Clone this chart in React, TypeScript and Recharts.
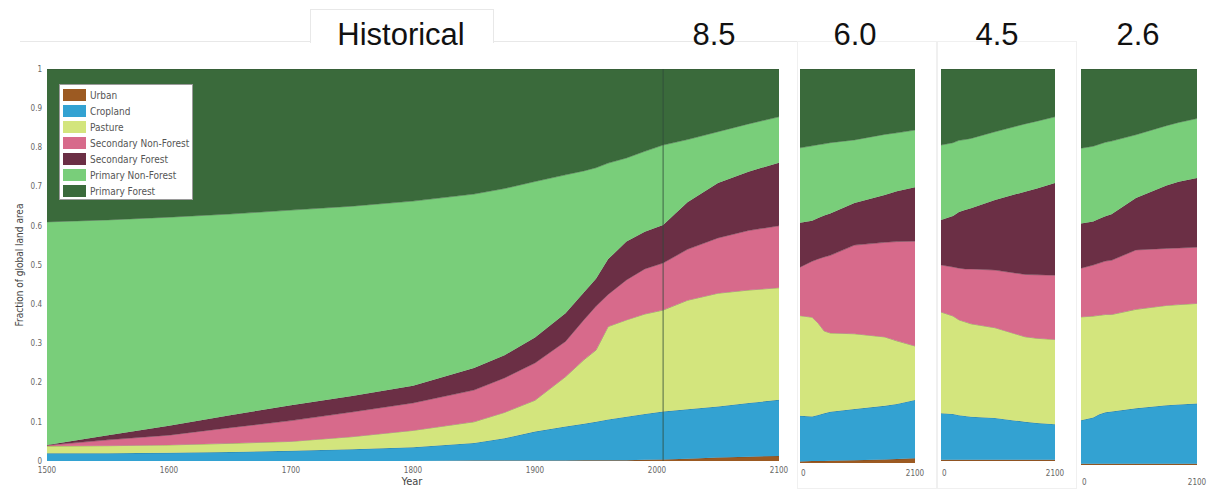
import React from 'react';
import { AreaChart, Area, XAxis, YAxis, ReferenceLine, Label } from 'recharts';

// land-use classes, bottom of the stack first
const CLASS_NAMES = ['Urban', 'Cropland', 'Pasture', 'Secondary Non-Forest', 'Secondary Forest', 'Primary Non-Forest', 'Primary Forest'];
const CLASS_KEYS = ['urban', 'cropland', 'pasture', 'secNonForest', 'secForest', 'priNonForest', 'priForest'];
const CLASS_COLORS = ['#9c5a22', '#33a2d2', '#d3e57d', '#d76a8b', '#6b2f45', '#79ce7a', '#3a6a3b'];

const Y_TICKS = [0, 0.1, 0.2, 0.3, 0.4, 0.5, 0.6, 0.7, 0.8, 0.9, 1];
const Y_TICK_LABELS = ['0', '0.1', '0.2', '0.3', '0.4', '0.5', '0.6', '0.7', '0.8', '0.9', '1'];
const MAIN_X_TICKS = [1500, 1600, 1700, 1800, 1900, 2000, 2100];

// historical reconstruction continued with RCP 8.5
const mainYears = [1500, 1550, 1600, 1650, 1700, 1750, 1800, 1850, 1875, 1900, 1925, 1940, 1950, 1960, 1975, 1990, 2005, 2025, 2050, 2075, 2100];
const mainUrban = [0, 0, 0, 0, 0, 0, 0, 0.001, 0.001, 0.001, 0.001, 0.002, 0.002, 0.002, 0.002, 0.003, 0.004, 0.006, 0.009, 0.011, 0.013];
const mainCropland = [0.02, 0.02, 0.021, 0.023, 0.026, 0.03, 0.035, 0.045, 0.057, 0.074, 0.087, 0.093, 0.098, 0.104, 0.111, 0.117, 0.122, 0.126, 0.13, 0.137, 0.143];
const mainPasture = [0.018, 0.019, 0.02, 0.022, 0.024, 0.032, 0.043, 0.054, 0.066, 0.08, 0.127, 0.163, 0.183, 0.237, 0.247, 0.255, 0.259, 0.278, 0.289, 0.288, 0.286];
const mainSecNonForest = [0.002, 0.015, 0.025, 0.04, 0.053, 0.063, 0.07, 0.081, 0.088, 0.095, 0.09, 0.102, 0.112, 0.082, 0.102, 0.115, 0.12, 0.13, 0.141, 0.152, 0.158];
const mainSecForest = [0.001, 0.012, 0.024, 0.032, 0.039, 0.041, 0.044, 0.056, 0.058, 0.065, 0.072, 0.07, 0.07, 0.09, 0.098, 0.095, 0.097, 0.12, 0.14, 0.15, 0.161];
const mainPriNonForest = [0.569, 0.549, 0.532, 0.513, 0.498, 0.484, 0.471, 0.444, 0.425, 0.398, 0.353, 0.31, 0.283, 0.245, 0.213, 0.205, 0.204, 0.16, 0.131, 0.122, 0.117];
const mainPriForest = [0.39, 0.385, 0.378, 0.37, 0.36, 0.35, 0.337, 0.319, 0.305, 0.287, 0.27, 0.26, 0.252, 0.24, 0.227, 0.21, 0.194, 0.18, 0.16, 0.14, 0.122];

// scenario panels share one time axis
const scenarioYears = [2005, 2015, 2020, 2025, 2030, 2050, 2075, 2085, 2100];

const rcp60Urban = [0.004, 0.005, 0.005, 0.005, 0.006, 0.007, 0.009, 0.01, 0.012];
const rcp60Cropland = [0.116, 0.113, 0.117, 0.121, 0.124, 0.13, 0.136, 0.14, 0.148];
const rcp60Pasture = [0.254, 0.252, 0.233, 0.209, 0.2, 0.191, 0.175, 0.16, 0.137];
const rcp60SecNonForest = [0.123, 0.142, 0.163, 0.188, 0.197, 0.225, 0.24, 0.252, 0.266];
const rcp60SecForest = [0.113, 0.103, 0.104, 0.105, 0.106, 0.107, 0.12, 0.128, 0.137];
const rcp60PriNonForest = [0.19, 0.19, 0.186, 0.182, 0.18, 0.16, 0.154, 0.148, 0.145];
const rcp60PriForest = [0.2, 0.195, 0.192, 0.19, 0.187, 0.18, 0.166, 0.162, 0.155];

const rcp45Urban = [0.003, 0.003, 0.003, 0.003, 0.003, 0.003, 0.003, 0.003, 0.003];
const rcp45Cropland = [0.119, 0.117, 0.114, 0.112, 0.11, 0.107, 0.097, 0.094, 0.091];
const rcp45Pasture = [0.258, 0.25, 0.243, 0.24, 0.237, 0.23, 0.217, 0.216, 0.216];
const rcp45SecNonForest = [0.12, 0.125, 0.132, 0.135, 0.14, 0.147, 0.159, 0.162, 0.164];
const rcp45SecForest = [0.115, 0.13, 0.143, 0.15, 0.155, 0.179, 0.211, 0.22, 0.235];
const rcp45PriNonForest = [0.191, 0.187, 0.183, 0.18, 0.178, 0.174, 0.173, 0.172, 0.169];
const rcp45PriForest = [0.194, 0.188, 0.182, 0.18, 0.177, 0.16, 0.14, 0.133, 0.122];

const rcp26Urban = [0.003, 0.003, 0.003, 0.003, 0.003, 0.003, 0.003, 0.003, 0.003];
const rcp26Cropland = [0.11, 0.117, 0.125, 0.13, 0.132, 0.14, 0.148, 0.15, 0.152];
const rcp26Pasture = [0.261, 0.256, 0.25, 0.247, 0.245, 0.25, 0.252, 0.252, 0.253];
const rcp26SecNonForest = [0.123, 0.129, 0.132, 0.135, 0.137, 0.15, 0.144, 0.143, 0.142];
const rcp26SecForest = [0.113, 0.11, 0.112, 0.113, 0.116, 0.131, 0.159, 0.167, 0.175];
const rcp26PriNonForest = [0.19, 0.19, 0.188, 0.187, 0.185, 0.16, 0.151, 0.15, 0.15];
const rcp26PriForest = [0.2, 0.195, 0.19, 0.185, 0.182, 0.166, 0.143, 0.135, 0.125];

const buildRows = (years: number[], series: number[][]) =>
  years.map((year, i) => {
    const row: Record<string, number> = { year };
    CLASS_KEYS.forEach((key, k) => {
      row[key] = series[k][i];
    });
    return row;
  });

const mainData = buildRows(mainYears, [mainUrban, mainCropland, mainPasture, mainSecNonForest, mainSecForest, mainPriNonForest, mainPriForest]);
const rcp60Data = buildRows(scenarioYears, [rcp60Urban, rcp60Cropland, rcp60Pasture, rcp60SecNonForest, rcp60SecForest, rcp60PriNonForest, rcp60PriForest]);
const rcp45Data = buildRows(scenarioYears, [rcp45Urban, rcp45Cropland, rcp45Pasture, rcp45SecNonForest, rcp45SecForest, rcp45PriNonForest, rcp45PriForest]);
const rcp26Data = buildRows(scenarioYears, [rcp26Urban, rcp26Cropland, rcp26Pasture, rcp26SecNonForest, rcp26SecForest, rcp26PriNonForest, rcp26PriForest]);

const TICK_FONT = '"DejaVu Sans Condensed", "Liberation Sans Narrow", sans-serif';
const TITLE_FONT = '"Liberation Sans", Arial, sans-serif';

const renderAreas = () =>
  CLASS_KEYS.map((key, i) => (
    <Area
      key={key}
      dataKey={key}
      name={CLASS_NAMES[i]}
      stackId="land"
      type="linear"
      fill={CLASS_COLORS[i]}
      fillOpacity={1}
      stroke="#2b2b2b"
      strokeOpacity={0.55}
      strokeWidth={0.6}
      isAnimationActive={false}
    />
  ));

// legend sits over the primary-forest band, top-left of the main plot
const LegendBox = () => (
  <div
    style={{
      position: 'absolute',
      left: 59,
      top: 84,
      width: 134,
      height: 116,
      background: '#fff',
      border: '1px solid #9a9a9a',
      boxSizing: 'border-box',
      padding: '2px 0 0 3px',
    }}
  >
    {CLASS_NAMES.map((name, i) => (
      <div key={name} style={{ display: 'flex', alignItems: 'center', height: 16 }}>
        <div style={{ width: 23, height: 12, background: CLASS_COLORS[i], marginRight: 4 }} />
        <span style={{ fontFamily: TICK_FONT, fontSize: 10, color: '#555', whiteSpace: 'nowrap' }}>{name}</span>
      </div>
    ))}
  </div>
);

const ScenarioTick = (props: any) => {
  const { x, y, payload, labelDy } = props;
  const isStart = payload.value === 2005;
  return (
    <text
      x={isStart ? x + 1 : x}
      y={y + labelDy}
      textAnchor={isStart ? 'start' : 'middle'}
      fontFamily={TICK_FONT}
      fontSize={8}
      fill="#666"
    >
      {isStart ? '0' : '2100'}
    </text>
  );
};

interface PanelProps {
  data: Record<string, number>[];
  left: number;
  top: number;
  plotWidth: number;
  plotHeight: number;
  labelDy: number;
}

const ScenarioPanel: React.FC<PanelProps> = ({ data, left, top, plotWidth, plotHeight, labelDy }) => (
  <div style={{ position: 'absolute', left: left - 6, top }}>
    <AreaChart
      width={plotWidth + 26}
      height={plotHeight + 26}
      data={data}
      margin={{ top: 0, right: 20, bottom: 0, left: 6 }}
    >
      <XAxis
        dataKey="year"
        type="number"
        domain={[2005, 2100]}
        ticks={[2005, 2100]}
        axisLine={false}
        tickLine={false}
        height={26}
        interval={0}
        tick={<ScenarioTick labelDy={labelDy} />}
      />
      <YAxis hide type="number" domain={[0, 1]} allowDataOverflow />
      {renderAreas()}
    </AreaChart>
  </div>
);

const titleStyle = (cx: number): React.CSSProperties => ({
  position: 'absolute',
  left: cx - 90,
  width: 180,
  top: 17,
  textAlign: 'center',
  fontFamily: TITLE_FONT,
  fontSize: 31,
  lineHeight: '36px',
  color: '#111',
});

export default function App() {
  return (
    <div style={{ position: 'absolute', left: 0, top: 0, width: 1207, height: 491, background: '#fff', overflow: 'hidden' }}>
      {/* faint frame lines around the panels */}
      <div style={{ position: 'absolute', left: 20, top: 41, width: 778, height: 0, borderTop: '1px solid #e8e8e8' }} />
      <div style={{ position: 'absolute', left: 310, top: 9, width: 182, height: 33, border: '1px solid #e8e8e8', borderBottom: 'none', background: '#fff' }} />
      <div style={{ position: 'absolute', left: 797, top: 41, width: 138, height: 446, border: '1px solid #f0f0f0' }} />
      <div style={{ position: 'absolute', left: 937, top: 41, width: 138, height: 446, border: '1px solid #f0f0f0' }} />

      <div style={titleStyle(401)}>Historical</div>
      <div style={titleStyle(714)}>8.5</div>
      <div style={titleStyle(855)}>6.0</div>
      <div style={titleStyle(997)}>4.5</div>
      <div style={titleStyle(1138)}>2.6</div>

      <div style={{ position: 'absolute', left: 0, top: 0 }}>
        <AreaChart width={790} height={491} data={mainData} margin={{ top: 69, right: 11, bottom: 0, left: 0 }}>
          <XAxis
            dataKey="year"
            type="number"
            domain={[1500, 2100]}
            ticks={MAIN_X_TICKS}
            interval={0}
            axisLine={false}
            tickLine={false}
            height={30}
            tickMargin={0}
            tick={{ fontFamily: TICK_FONT, fontSize: 8, fill: '#666' }}
          >
            <Label
              content={() => (
                <text x={412} y={485} textAnchor="middle" fontFamily={TICK_FONT} fontSize={11} fill="#444">
                  Year
                </text>
              )}
            />
          </XAxis>
          <YAxis
            type="number"
            domain={[0, 1]}
            ticks={Y_TICKS}
            interval={0}
            allowDataOverflow
            width={47}
            axisLine={false}
            tickLine={false}
            tickSize={3}
            tickMargin={2}
            tickFormatter={(v: number) => Y_TICK_LABELS[Y_TICKS.indexOf(v)] ?? String(v)}
            tick={{ fontFamily: TICK_FONT, fontSize: 8, fill: '#666' }}
          >
            <Label
              content={() => (
                <text
                  x={19}
                  y={265}
                  transform="rotate(-90 19 265)"
                  textAnchor="middle"
                  dominantBaseline="central"
                  fontFamily={TICK_FONT}
                  fontSize={10}
                  fill="#444"
                >
                  Fraction of global land area
                </text>
              )}
            />
          </YAxis>
          {renderAreas()}
          <ReferenceLine x={2005} stroke="#2e4a3a" strokeWidth={1} strokeOpacity={0.8} />
        </AreaChart>
      </div>
      <LegendBox />

      <ScenarioPanel data={rcp60Data} left={800} top={69} plotWidth={115} plotHeight={394} labelDy={5} />
      <ScenarioPanel data={rcp45Data} left={941} top={69} plotWidth={114} plotHeight={392} labelDy={7} />
      <ScenarioPanel data={rcp26Data} left={1081} top={69} plotWidth={116} plotHeight={396} labelDy={12} />
    </div>
  );
}
